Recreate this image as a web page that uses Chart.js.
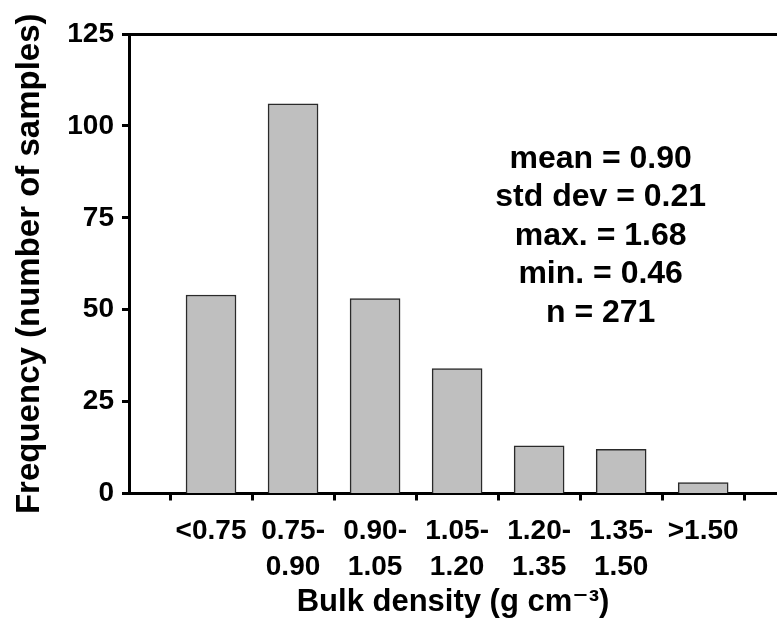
<!DOCTYPE html>
<html>
<head>
<meta charset="utf-8">
<script src="https://cdn.jsdelivr.net/npm/chart.js@4"></script>
<style>
  html, body { margin: 0; padding: 0; background: #fff; }
  #wrap { position: relative; width: 777px; height: 624px; }
</style>
</head>
<body>
<div id="wrap"><canvas id="histo"></canvas></div>
<script>
// bulk density classes (g cm-3) and number of samples in each
const classLabels = [
  ['<0.75'],
  ['0.75-', '0.90'],
  ['0.90-', '1.05'],
  ['1.05-', '1.20'],
  ['1.20-', '1.35'],
  ['1.35-', '1.50'],
  ['>1.50'],
];
const frequency = [54, 106, 53, 34, 13, 12, 3];
const yTicks = [0, 25, 50, 75, 100, 125];
const statsText = ['mean = 0.90', 'std dev = 0.21', 'max. = 1.68', 'min. = 0.46', 'n = 271'];

const FONT = '"Liberation Sans", Arial, Helvetica, "DejaVu Sans", sans-serif';

// stats block, anchored in data units
const statsBox = { x: 4.75, y: 91, gap: 38.5 };

const statsPlugin = {
  id: 'stats',
  afterDraw(chart) {
    const ctx = chart.ctx;
    const xs = chart.scales.x, ys = chart.scales.y;
    ctx.save();
    ctx.font = 'bold 32px ' + FONT;
    ctx.fillStyle = '#000';
    ctx.textAlign = 'center';
    ctx.textBaseline = 'middle';
    const cx = xs.getPixelForValue(statsBox.x);
    const y0 = ys.getPixelForValue(statsBox.y);
    statsText.forEach((t, i) => ctx.fillText(t, cx, y0 + i * statsBox.gap));
    ctx.restore();
  }
};

const points = frequency.map((v, i) => ({ x: i, y: v }));

new Chart(document.getElementById('histo').getContext('2d'), {
  type: 'bar',
  plugins: [statsPlugin],
  data: {
    datasets: [{
      data: points,
      backgroundColor: '#bfbfbf',
      borderColor: '#2a2a2a',
      borderWidth: 1.5,
      barThickness: 50,
    }],
  },
  options: {
    responsive: true,
    maintainAspectRatio: false,
    animation: false,
    layout: { padding: { top: 34, right: 0, bottom: 0, left: 0 } },
    plugins: { legend: { display: false }, tooltip: { enabled: false } },
    scales: {
      x: {
        type: 'linear',
        position: 'bottom',
        min: -1,
        max: 6.9,
        offset: false,
        afterBuildTicks(scale) {
          scale.ticks = [{ value: -1 }].concat(classLabels.map((c, i) => ({ value: i })));
        },
        afterFit(scale) { scale.height = 130.5; },
        grid: { drawOnChartArea: false, drawTicks: true, tickLength: 7, tickColor: '#000', tickWidth: 3 },
        border: { display: true, color: '#000', width: 3 },
        ticks: {
          autoSkip: false,
          maxRotation: 0,
          padding: 13,
          color: '#000',
          font: { family: FONT, size: 28, weight: 'bold', lineHeight: 1.29 },
          callback: (v) => (v >= 0 && classLabels[v]) ? classLabels[v] : '',
        },
        title: {
          display: true,
          text: 'Bulk density (g cm\u207B\u00B3)',
          color: '#000',
          font: { family: FONT, size: 31, weight: 'bold' },
          padding: { top: 0, bottom: 3 },
        },
      },
      xTop: {
        type: 'linear',
        position: 'top',
        min: -1,
        max: 6.9,
        offset: false,
        afterFit(scale) { scale.height = 0; },
        grid: { display: false, drawTicks: false },
        border: { display: true, color: '#000', width: 3 },
        ticks: { display: false },
      },
      y: {
        min: 0,
        max: 125,
        afterBuildTicks(scale) { scale.ticks = yTicks.map(v => ({ value: v })); },
        afterFit(scale) { scale.width = 129; },
        grid: { drawOnChartArea: false, drawTicks: true, tickLength: 7, tickColor: '#000', tickWidth: 3 },
        border: { display: true, color: '#000', width: 3 },
        ticks: {
          padding: 8,
          color: '#000',
          font: { family: FONT, size: 28, weight: 'bold' },
        },
        title: {
          display: true,
          text: 'Frequency (number of samples)',
          color: '#000',
          font: { family: FONT, size: 33, weight: 'bold' },
          padding: { top: 10, bottom: 0 },
        },
      },
    },
  },
});
</script>
</body>
</html>
